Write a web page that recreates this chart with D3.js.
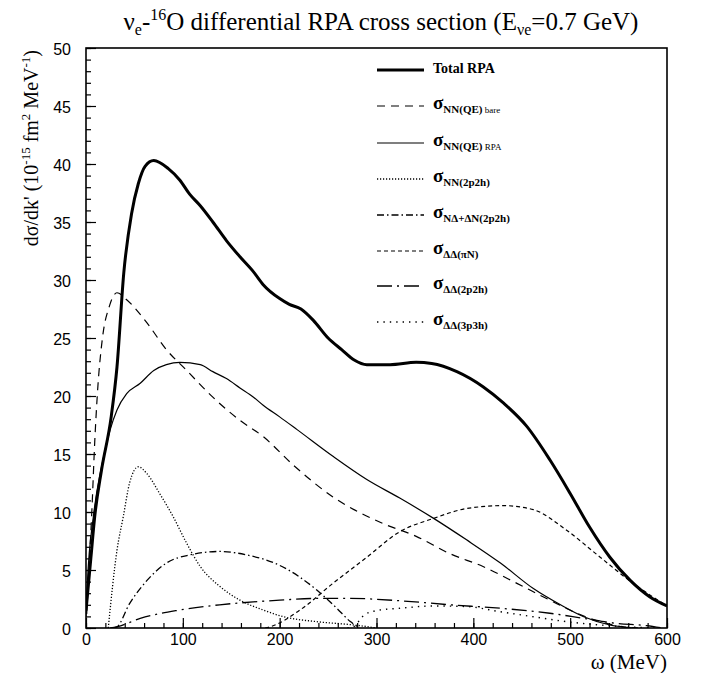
<!DOCTYPE html>
<html>
<head>
<meta charset="utf-8">
<script src="https://cdn.jsdelivr.net/npm/d3@7"></script>
<style>
  body { margin: 0; background: #fff; }
  svg { display: block; }
  .serif { font-family: "Liberation Serif", "Times New Roman", serif; }
  .tick text { font-family: "Liberation Sans", Arial, sans-serif; font-size: 16px; }
</style>
</head>
<body>
<div id="chart"></div>
<script>
// values (omega in MeV, dsigma/dk' in 1e-15 fm^2/MeV)
const omegaTotal = [0, 5, 9, 16, 26, 32, 39, 47, 54, 61, 70, 85, 97, 107, 118, 131, 145, 159, 173, 183, 200, 210, 222, 235, 250, 264, 277, 290, 314, 341, 357, 383, 410, 431, 455, 479, 500, 520, 541, 562, 582, 600];
const totalRPA = [1.5, 6, 9.6, 13.6, 18.2, 22.5, 30.6, 35.7, 38.3, 39.8, 40.3, 39.6, 38.6, 37.4, 36.4, 35.0, 33.4, 32.0, 30.7, 29.6, 28.4, 27.9, 27.5, 26.5, 25.0, 24.0, 23.1, 22.7, 22.7, 22.9, 22.8, 22.1, 20.8, 19.4, 17.4, 14.5, 11.6, 8.7, 6.1, 4.1, 2.7, 1.9];

const omegaBare = [0, 3, 6, 9, 12, 17, 24, 32, 42, 63, 83, 104, 131, 159, 183, 214, 255, 307, 341, 376, 410, 445, 479, 507, 531, 555, 570];
const qeBare = [0, 5, 10, 16, 20.5, 25, 27.7, 28.9, 28.3, 26.3, 24.0, 22.2, 19.9, 17.9, 16.5, 14.05, 11.3, 9.0, 7.9, 6.4, 5.3, 3.85, 2.4, 1.27, 0.55, 0.1, 0];

const omegaQeRpa = [0, 1.4, 7.6, 16, 25, 32, 42, 56, 70, 83, 97, 118, 131, 145, 159, 173, 183, 200, 218, 255, 290, 324, 359, 393, 428, 462, 490, 514, 541, 565];
const qeRpa = [1.0, 3.85, 9.6, 13.9, 17.1, 18.8, 20.2, 21.1, 22.2, 22.7, 22.9, 22.7, 22.1, 21.5, 20.7, 19.9, 19.2, 18.2, 17.1, 14.8, 12.8, 11.2, 9.45, 7.6, 5.6, 3.4, 2.0, 0.97, 0.26, 0];

const omegaNN2p2h = [23, 32, 38.5, 45, 54, 63, 76, 90, 104, 118, 138, 159, 183, 204, 238, 272, 283, 300];
const nn2p2h = [0, 6.7, 9.6, 12.5, 13.9, 13.3, 11.6, 9.6, 7.3, 5.3, 3.6, 2.4, 1.55, 0.97, 0.55, 0.3, 0.2, 0];

const omegaNDelta = [28, 32, 45, 63, 83, 107, 138, 166, 200, 238, 259, 273, 282];
const nDelta2p2h = [0, 0.1, 2.1, 4.1, 5.6, 6.3, 6.6, 6.3, 5.4, 3.3, 1.7, 0.55, 0];

const omegaPiN = [185, 190, 221, 255, 290, 324, 359, 393, 431, 462, 496, 531, 565, 600];
const ddPiN = [0, 0.1, 1.55, 3.85, 6.1, 8.3, 9.45, 10.3, 10.55, 10.2, 8.45, 6.1, 3.85, 1.9];

const omegaDD2p2h = [25, 32, 56, 97, 138, 173, 200, 238, 273, 324, 376, 428, 479, 514, 548, 579, 595];
const dd2p2h = [0, 0.1, 0.83, 1.55, 2.0, 2.25, 2.4, 2.55, 2.55, 2.35, 2.0, 1.7, 1.27, 0.83, 0.4, 0.2, 0];

const omegaDD3p3h = [270, 276, 287, 300, 324, 359, 393, 428, 462, 496, 531, 565, 590];
const dd3p3h = [0, 0.1, 1.1, 1.5, 1.7, 1.9, 1.85, 1.4, 0.97, 0.55, 0.26, 0.07, 0];

const xTicks = [0, 100, 200, 300, 400, 500, 600];
const yTicks = [0, 5, 10, 15, 20, 25, 30, 35, 40, 45, 50];

const series = [
  { x: omegaTotal, y: totalRPA, width: 3, dash: null },
  { x: omegaBare, y: qeBare, width: 1.2, dash: '8,6' },
  { x: omegaQeRpa, y: qeRpa, width: 1.2, dash: null },
  { x: omegaNN2p2h, y: nn2p2h, width: 1.3, dash: '1.2,1.8' },
  { x: omegaNDelta, y: nDelta2p2h, width: 1.3, dash: '7,3,1.5,3' },
  { x: omegaPiN, y: ddPiN, width: 1.2, dash: '4,3' },
  { x: omegaDD2p2h, y: dd2p2h, width: 1.3, dash: '15,5,2,5' },
  { x: omegaDD3p3h, y: dd3p3h, width: 1.4, dash: '1.4,5' }
];

const width = 706, height = 673;
const margin = { left: 86, right: 39, top: 48, bottom: 45 };

const svg = d3.select('#chart').append('svg')
  .attr('width', width)
  .attr('height', height);

const x = d3.scaleLinear().domain([0, 600]).range([margin.left, width - margin.right]);
const y = d3.scaleLinear().domain([0, 50]).range([height - margin.bottom, margin.top]);

svg.append('clipPath').attr('id', 'clip')
  .append('rect')
  .attr('x', x(0)).attr('y', y(50))
  .attr('width', x(600) - x(0)).attr('height', y(0) - y(50));

// minor ticks (inward)
svg.append('g')
  .attr('transform', `translate(${x(0)},0)`)
  .call(d3.axisLeft(y).tickValues(d3.range(0, 51, 1)).tickSize(-5).tickFormat(''))
  .call(g => g.select('.domain').remove())
  .call(g => g.selectAll('line').attr('stroke', '#000').attr('stroke-width', 1.2));

svg.append('g')
  .attr('transform', `translate(0,${y(0)})`)
  .call(d3.axisBottom(x).tickValues(d3.range(0, 601, 20)).tickSize(-5).tickFormat(''))
  .call(g => g.select('.domain').remove())
  .call(g => g.selectAll('line').attr('stroke', '#000').attr('stroke-width', 1.2));

// major ticks with labels
svg.append('g')
  .attr('transform', `translate(${x(0)},0)`)
  .call(d3.axisLeft(y).tickValues(yTicks).tickSize(-10).tickPadding(15).tickFormat(d3.format('d')))
  .call(g => g.select('.domain').remove())
  .call(g => g.selectAll('line').attr('stroke', '#000').attr('stroke-width', 1.2))
  .call(g => g.selectAll('text').attr('fill', '#000').attr('dy', '0.4em'));

svg.append('g')
  .attr('transform', `translate(0,${y(0)})`)
  .call(d3.axisBottom(x).tickValues(xTicks).tickSize(-10).tickPadding(6).tickFormat(d3.format('d')))
  .call(g => g.select('.domain').remove())
  .call(g => g.selectAll('line').attr('stroke', '#000').attr('stroke-width', 1.2))
  .call(g => g.selectAll('text').attr('fill', '#000'));

// curves
const plot = svg.append('g').attr('clip-path', 'url(#clip)');
series.forEach(s => {
  const pts = s.x.map((v, i) => [v, s.y[i]]);
  plot.append('path')
    .datum(pts)
    .attr('fill', 'none')
    .attr('stroke', '#000')
    .attr('stroke-width', s.width)
    .attr('stroke-dasharray', s.dash)
    .attr('stroke-linejoin', 'round')
    .attr('d', d3.line().x(d => x(d[0])).y(d => y(d[1])).curve(d3.curveMonotoneX));
});

// frame
svg.append('rect')
  .attr('x', x(0)).attr('y', y(50))
  .attr('width', x(600) - x(0)).attr('height', y(0) - y(50))
  .attr('fill', 'none').attr('stroke', '#000').attr('stroke-width', 1.6);

// title
const title = svg.append('text').attr('class', 'serif')
  .attr('x', 381).attr('y', 30).attr('text-anchor', 'middle')
  .attr('font-size', 25);
title.append('tspan').text('ν');
title.append('tspan').attr('font-size', 16).attr('dy', 5).text('e');
title.append('tspan').attr('dy', -5).text('-');
title.append('tspan').attr('font-size', 16).attr('dy', -10).text('16');
title.append('tspan').attr('dy', 10).text('O differential RPA cross section (E');
title.append('tspan').attr('font-size', 16).attr('dy', 5).text('νe');
title.append('tspan').attr('dy', -5).text('=0.7 GeV)');

// y axis title
const yl = svg.append('text').attr('class', 'serif')
  .attr('transform', `translate(38,${y(50) + 2}) rotate(-90)`)
  .attr('text-anchor', 'end').attr('font-size', 20);
yl.append('tspan').text("dσ/dk' (10");
yl.append('tspan').attr('font-size', 13).attr('dy', -8).text('-15');
yl.append('tspan').attr('dy', 8).text(' fm');
yl.append('tspan').attr('font-size', 13).attr('dy', -8).text('2');
yl.append('tspan').attr('dy', 8).text(' MeV');
yl.append('tspan').attr('font-size', 13).attr('dy', -8).text('-1');
yl.append('tspan').attr('dy', 8).text(')');

// x axis title
svg.append('text').attr('class', 'serif')
  .attr('x', x(600)).attr('y', 669).attr('text-anchor', 'end')
  .attr('font-size', 21).text('ω (MeV)');

// legend
const legendLabels = [
  ['Total RPA'],
  ['NN(QE)', ' bare'],
  ['NN(QE)', ' RPA'],
  ['NN(2p2h)'],
  ['NΔ+ΔN(2p2h)'],
  ['ΔΔ(πN)'],
  ['ΔΔ(2p2h)'],
  ['ΔΔ(3p3h)']
];
const legendY = [68, 104, 141, 177, 213, 249, 284, 320];
const leg = svg.append('g');
series.forEach((s, i) => {
  const ly = legendY[i];
  leg.append('line')
    .attr('x1', 377).attr('x2', 424).attr('y1', ly + 2).attr('y2', ly + 2)
    .attr('stroke', '#000').attr('stroke-width', i === 0 ? 3 : s.width)
    .attr('stroke-dasharray', s.dash);
  const t = leg.append('text').attr('class', 'serif')
    .attr('x', 433).attr('y', ly + 5).attr('font-weight', 'bold');
  if (i === 0) {
    t.attr('font-size', 14).text(legendLabels[i][0]);
  } else {
    t.append('tspan').attr('font-size', 19).text('σ');
    t.append('tspan').attr('font-size', 11).attr('dy', 4).text(legendLabels[i][0]);
    if (legendLabels[i][1]) {
      t.append('tspan').attr('font-size', 9).attr('font-weight', 'normal').text(legendLabels[i][1]);
    }
  }
});
</script>
</body>
</html>
